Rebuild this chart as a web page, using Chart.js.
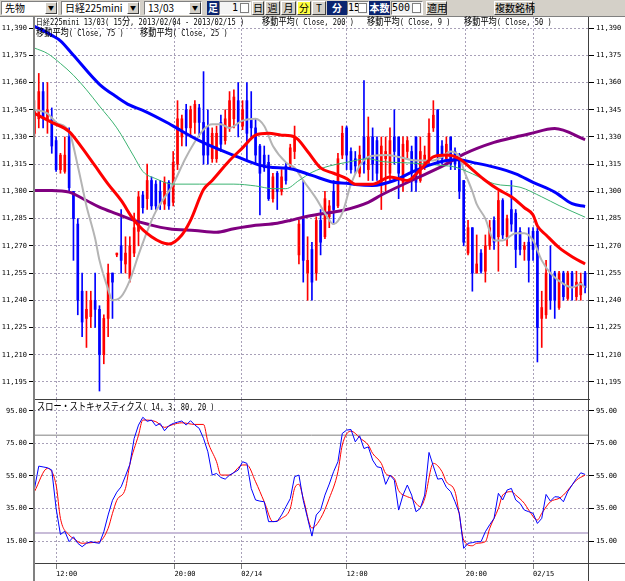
<!DOCTYPE html>
<html><head><meta charset="utf-8">
<script src="https://cdn.jsdelivr.net/npm/chart.js@4"></script>
<style>
html,body{margin:0;padding:0;background:#fff;width:625px;height:581px;overflow:hidden;position:relative;}
#tb{position:absolute;left:0;top:0;width:625px;height:17px;background:#d4d0c8;border-bottom:1px solid #808080;box-sizing:border-box;font-family:'Noto Sans CJK JP',sans-serif;}
.sel{position:absolute;top:1px;height:14px;background:#fff;border:1px solid;border-color:#808080 #fff #fff #808080;box-sizing:border-box;font-size:10px;line-height:12px;padding-left:3px;white-space:nowrap;}
.arr{position:absolute;right:0;top:0;width:12px;height:12px;background:#d4d0c8;border:1px solid;border-color:#fff #404040 #404040 #fff;box-sizing:border-box;font-size:6px;line-height:10px;text-align:center;}
.nav{position:absolute;top:1px;height:14px;background:#0a2470;color:#fff;font-size:10px;line-height:14px;text-align:center;font-weight:bold;}
.btn{position:absolute;top:1px;height:14px;background:#d4d0c8;border:1px solid;border-color:#fff #404040 #404040 #fff;box-sizing:border-box;font-size:10px;line-height:12px;text-align:center;white-space:nowrap;}
.spin{position:absolute;top:1px;height:14px;background:#f4f4f4;border:1px solid;border-color:#808080 #fff #fff #808080;box-sizing:border-box;font-size:10px;line-height:12px;text-align:right;padding-right:12px;font-family:'DejaVu Sans Mono',monospace;}
.spin i{position:absolute;right:1px;top:1px;width:9px;height:10px;border:1px solid #808080;box-sizing:border-box;background:#fff;}
.txt{position:absolute;font:9px 'DejaVu Sans Mono',monospace;color:#000;white-space:nowrap;line-height:11px;transform:scaleX(0.78);transform-origin:0 0;}
.txt i{font-style:normal;font-family:'Noto Sans CJK JP',sans-serif;font-size:10.5px;}
.cv{position:absolute;left:0;}
.vline{position:absolute;background:#808080;}
</style>
</head><body>
<div id="tb">
  <div class="sel" style="left:1px;width:57px">先物<span class="arr">▼</span></div>
  <div class="sel" style="left:61px;width:79px">日経225mini<span class="arr">▼</span></div>
  <div class="sel" style="left:144px;width:58px">13/03<span class="arr">▼</span></div>
  <div class="nav" style="left:207px;width:12px">足</div>
  <div class="spin" style="left:219px;width:32px">1<i></i></div>
  <div class="btn" style="left:252px;width:12px">日</div>
  <div class="btn" style="left:265px;width:15px">週</div>
  <div class="btn" style="left:281px;width:15px">月</div>
  <div class="btn" style="left:297px;width:14px;background:#ffff40">分</div>
  <div class="btn" style="left:312px;width:14px">T</div>
  <div class="nav" style="left:327px;width:20px">分</div>
  <div class="spin" style="left:347px;width:22px">15<i></i></div>
  <div class="nav" style="left:369px;width:21px">本数</div>
  <div class="spin" style="left:391px;width:32px">500<i></i></div>
  <div class="btn" style="left:426px;width:21px">適用</div>
  <div class="btn" style="left:494px;width:39px">複数銘柄</div>
</div>
<div class="cv" style="top:17px;width:625px;height:383px"><canvas id="c1" width="625" height="383"></canvas></div>
<div class="cv" style="top:400px;width:625px;height:181px"><canvas id="c2" width="625" height="181"></canvas></div>
<div class="vline" style="left:33px;top:17px;width:2px;height:564px"></div>
<div class="vline" style="left:588px;top:17px;width:1px;height:564px;background:#404040"></div>
<div class="vline" style="left:589px;top:563px;width:36px;height:1px;background:#404040"></div>
<div class="txt" style="left:36px;top:15px">日経225mini 13/03( 15<i>分</i>, 2013/02/04 - 2013/02/15 )</div>
<div class="txt" style="left:262px;top:15px"><i>移動平均</i>( Close, 200 )</div>
<div class="txt" style="left:367px;top:15px"><i>移動平均</i>( Close, 9 )</div>
<div class="txt" style="left:464px;top:15px"><i>移動平均</i>( Close, 50 )</div>
<div class="txt" style="left:36px;top:26px"><i>移動平均</i>( Close, 75 )</div>
<div class="txt" style="left:140px;top:26px"><i>移動平均</i>( Close, 25 )</div>
<div class="txt" style="left:37px;top:400px"><i>スロー・ストキャスティクス</i>( 14, 3, 80, 20 )</div>
<script>
// ---------- data ----------
const tickPos    = [5, 32.3, 47.7, 72, 99.5, 115];
const tickLabels = ['12:00', '20:00', '02/14', '12:00', '20:00', '02/15'];
const priceTicks = [11195, 11210, 11225, 11240, 11255, 11270, 11285, 11300, 11315, 11330, 11345, 11360, 11375, 11390];
const stochTicks = [15, 35, 55, 75, 95];
const stochLevels = [80, 20];

const open = [11332,11340,11355,11340,11340,11328,11312,11311,11330,11300,11282,11245,11230,11231,11240,11235,11210,11230,11255,11265,
 11270,11260,11252,11266,11278,11298,11296,11306,11304,11300,11293,11305,11294,11315,11330,11345,11335,11338,11346,11338,
 11335,11318,11318,11338,11328,11335,11340,11350,11336,11350,11340,11335,11325,11320,11316,11296,11310,11300,11314,11314,
 11322,11265,11285,11255,11268,11255,11284,11275,11286,11300,11292,11320,11335,11322,11318,11310,11330,11312,11330,11328,
 11305,11318,11310,11330,11330,11305,11322,11322,11330,11306,11315,11318,11335,11345,11325,11318,11330,11322,11318,11306,
 11266,11280,11255,11266,11256,11270,11284,11275,11295,11275,11290,11288,11278,11268,11272,11278,11278,11230,11232,11255,
 11255,11236,11255,11241,11255,11242,11243,11255];
const high = [11350,11365,11360,11360,11346,11330,11321,11330,11335,11300,11285,11255,11245,11245,11255,11237,11232,11260,11255,11266,
 11290,11275,11275,11288,11300,11300,11315,11308,11306,11306,11308,11306,11322,11350,11342,11348,11347,11350,11348,11366,
 11345,11335,11336,11342,11345,11355,11356,11360,11350,11360,11355,11340,11326,11325,11320,11310,11311,11312,11316,11326,
 11336,11284,11306,11275,11272,11286,11290,11300,11295,11306,11321,11336,11336,11324,11322,11325,11361,11341,11335,11330,
 11330,11330,11335,11345,11330,11330,11330,11325,11330,11330,11325,11340,11350,11345,11328,11330,11330,11324,11321,11306,
 11284,11280,11276,11268,11276,11284,11286,11300,11296,11287,11306,11290,11280,11272,11280,11280,11280,11245,11262,11270,
 11256,11256,11256,11256,11256,11256,11255,11256];
const low = [11330,11335,11335,11332,11321,11311,11310,11310,11300,11262,11232,11220,11214,11225,11225,11190,11205,11220,11230,11264,
 11255,11255,11250,11264,11270,11288,11290,11290,11290,11290,11290,11290,11292,11312,11325,11325,11330,11332,11330,11315,
 11315,11316,11316,11322,11326,11333,11335,11330,11334,11317,11330,11315,11287,11311,11295,11294,11290,11298,11304,11312,
 11318,11260,11250,11240,11240,11251,11265,11274,11280,11282,11291,11318,11312,11310,11310,11308,11310,11306,11306,11306,
 11290,11300,11306,11315,11296,11300,11318,11300,11300,11305,11312,11315,11333,11315,11315,11316,11312,11312,11296,11270,
 11265,11245,11255,11255,11250,11268,11268,11256,11274,11270,11278,11258,11265,11262,11250,11262,11206,11214,11230,11235,
 11230,11235,11240,11240,11240,11240,11240,11244];
const close = [11345,11355,11340,11345,11325,11312,11320,11320,11302,11285,11240,11228,11235,11240,11235,11210,11230,11255,11250,11266,
 11262,11266,11270,11280,11297,11291,11306,11292,11292,11293,11305,11292,11316,11340,11340,11335,11345,11348,11338,11320,
 11320,11332,11332,11326,11340,11350,11352,11338,11345,11332,11335,11320,11310,11313,11296,11308,11300,11308,11306,11324,
 11330,11282,11262,11262,11250,11284,11272,11296,11292,11290,11318,11332,11320,11312,11314,11320,11315,11330,11315,11310,
 11325,11322,11328,11322,11310,11326,11328,11310,11305,11322,11320,11332,11342,11320,11318,11326,11315,11315,11300,11272,
 11280,11255,11260,11256,11270,11280,11272,11295,11276,11285,11282,11268,11268,11270,11262,11268,11225,11236,11255,11240,
 11240,11255,11242,11255,11248,11250,11250,11247];

// moving averages: [bar index, value]
const ma200 = [[0,11300.5],[4,11300.5],[8,11299.6],[12,11295],[15,11291.3],[19,11287.6],[23,11284],[26,11282],[31,11279.4],[37,11278.4],
 [42,11277.5],[46,11279.4],[51,11281.3],[56,11282.5],[59,11284],[62,11285.8],[66,11287.6],[71,11289.5],[77,11294],[80,11298],
 [87,11306],[95,11315],[99,11320.5],[106,11327],[111,11330],[114,11331.6],[120,11334.6],[127,11328.5]];
const ma9 = [[0,11345],[3,11343],[5,11338],[8,11333],[10,11314],[12,11292],[14,11274],[15,11262],[17,11246],[18,11240],[20,11242],
 [22,11251],[24,11265],[26,11278],[28,11289],[32,11304],[35,11319],[39,11334],[41,11337],[43,11337],[45,11335],[48,11339],[51,11340],
 [53,11336],[55,11325],[58,11316],[60,11313],[62,11306],[65,11296],[67,11288],[69,11282],[71,11288],[73,11304],[75,11314],[77,11319],
 [81,11320],[84,11319],[88,11317],[92,11317],[94,11319],[96,11322],[98,11319],[99,11312],[101,11300],[102,11293],[104,11285],
 [106,11273],[108,11273],[111,11277],[113,11277],[115,11273],[117,11262],[119,11255],[122,11249],[124,11247],[126,11249],[127,11247]];
const ma50 = [[0,11391],[4,11386],[6,11383],[9,11375],[15,11359],[19,11352],[22,11347.5],[25,11344.7],[31,11337.4],[33,11334.6],[38,11328],
 [46,11319.8],[51,11315.2],[54,11313.4],[59,11312.5],[64,11308.8],[69,11305],[72,11304.5],[74,11303.8],[78,11303.3],[83,11306],
 [87,11310.6],[92,11315.2],[95,11317],[98,11317.4],[101,11316],[106,11313.4],[111,11309.7],[115,11305],[120,11299.6],[124,11293.2],[127,11291.7]];
const ma75 = [[0,11379],[3,11376],[6,11370.5],[9,11364],[12,11356],[15,11347],[19,11335],[23,11319],[25,11311],[28,11307],[32,11304],
 [38,11304],[46,11304],[51,11303],[55,11301.5],[58,11301.5],[61,11306],[64,11310.5],[68,11314],[72,11316],[77,11318],[80,11316.5],
 [88,11315.5],[94,11314.3],[97,11313.4],[101,11309.7],[106,11304.2],[112,11302.3],[117,11297],[121,11292.2],[127,11285.8]];
const ma25 = [[0,11343],[4,11338],[8,11333],[11,11324],[14,11314],[17,11304],[20,11295],[23,11284],[27,11275],[31,11271],[34,11276],
 [36,11284],[39,11301],[41,11306],[45,11317],[48,11324],[51,11331],[54,11332],[57,11331],[60,11330],[63,11322],[66,11313],[69,11310],
 [72,11307],[74,11304],[78,11304],[82,11308],[86,11306],[89,11312],[92,11319],[95,11320],[98,11318],[101,11312],[104,11306],[107,11301],
 [110,11297],[113,11291],[115,11287],[116,11281],[118,11276],[121,11269],[124,11264],[127,11260]];

// slow stochastics (%K blue, %D red): [bar index, value]
const stochK = [[0,47],[1,61],[2,60.5],[3,60],[4,58.6],[5,35],[6,19],[7,21],[8,14.6],[9,17.6],[10,13.6],[11,11.5],[12,13.6],[13,14.6],[14,14],
 [15,13.6],[16,20.7],[17,31],[18,40],[19,45],[20,48.3],[21,55],[22,62],[23,78],[24,86.2],[25,91],[26,88.5],[27,89.3],[28,85.8],[29,87.2],
 [30,82.7],[31,85.8],[32,87.2],[33,88],[34,88.7],[35,86.2],[36,88.9],[37,86.2],[38,84.2],[39,78],[40,69.8],[41,55.5],[42,56.5],[43,54],
 [44,53],[45,55.5],[46,57],[47,58.6],[48,63.7],[49,62.7],[50,47.3],[51,40.2],[52,39.5],[53,39.1],[54,26.9],[55,26.9],[56,27],[57,31],
 [58,36],[59,41],[60,54.5],[61,55.5],[62,40],[63,28.9],[64,18],[65,31],[66,34],[67,43.2],[68,50],[69,57.6],[70,63.7],[71,81.1],[72,83.1],
 [73,83.5],[74,75.9],[75,79.6],[76,71.8],[77,72.8],[78,64.7],[79,60.6],[80,60],[81,49.8],[82,55.5],[83,52.4],[84,34],[85,43.2],[86,49.4],
 [87,43.2],[88,33],[89,35],[90,43.2],[91,69.4],[92,61],[93,53],[94,53.4],[95,48],[96,45.3],[97,39.1],[98,32],[99,10.5],[100,13.6],
 [101,14],[102,14.6],[103,14.6],[104,20.7],[105,25],[106,28.9],[107,44.3],[108,40.2],[109,46.3],[110,47.3],[111,40.2],[112,38.1],
 [113,34],[114,33],[115,32],[116,25.8],[117,28.9],[118,43.6],[119,39.5],[120,42.2],[121,42],[122,39.1],[123,45.3],[124,49.4],
 [125,53.4],[126,56.9],[127,55.9]];
const stochD = [[0,45.3],[3,59.6],[5,49.4],[6,28.9],[8,18.7],[9,16.6],[11,13.6],[14,14.2],[15,14.6],[17,22.8],[18,32],[19,40],[21,47.3],
 [22,62],[24,80],[25,89.3],[28,88.3],[30,84.8],[32,86.6],[34,87.6],[37,86.6],[39,86.6],[40,76],[42,63.7],[43,55.5],[45,55.5],[48,61.7],
 [49,61.7],[51,51.4],[53,39.1],[55,26.9],[57,28.9],[59,35],[60,47.3],[61,49.8],[62,41.2],[64,23],[66,28.9],[68,41.2],[70,57.6],[71,73.9],
 [73,82.5],[74,81.1],[75,78.4],[77,73.9],[78,68.8],[80,62.7],[81,56.5],[83,53.4],[84,46],[86,42.2],[87,41.2],[89,36.1],[90,41],[92,62.7],
 [94,57.6],[95,51.4],[97,45.3],[98,31],[99,15.6],[101,12.1],[102,13.6],[104,14.6],[105,22.8],[107,35],[108,43.2],[110,45.3],[111,43.2],
 [113,38.1],[114,34],[116,27.9],[117,32],[119,39.1],[121,41.2],[122,43.2],[124,49.4],[125,52.4],[127,55.5]];

// ---------- chart setup ----------
const X_MIN = -0.1, X_MAX = 127.9;
const FONT = {family: "'DejaVu Sans Mono', monospace", size: 7};
const GRID = '#a8a0b8';
const UP = '#ff0000', DOWN = '#0000ff';
const pts = arr => arr.map(p => ({x: p[0], y: p[1]}));
const comma = v => String(v).replace(/\B(?=(\d{3})+(?!\d))/g, ',');
const noPad = s => { s.paddingTop = 0; s.paddingBottom = 0; s.paddingLeft = 0; s.paddingRight = 0; };

const isUp = i => close[i] >= open[i];
const wickData = open.map((o, i) => ({x: i, y: [low[i], high[i]]}));
const bodyData = open.map((o, i) => ({x: i, y: [Math.min(o, close[i]), Math.max(o, close[i])]}));
const barColors = open.map((o, i) => isUp(i) ? UP : DOWN);

function xScale(showLabels) {
  return {
    type: 'linear', min: X_MIN, max: X_MAX, offset: false,
    afterBuildTicks: s => { s.ticks = tickPos.map(v => ({value: v})); },
    ticks: {display: showLabels, autoSkip: false, maxRotation: 0, align: 'start', font: FONT, color: '#000', padding: 1,
      callback: v => { const k = tickPos.indexOf(v); return k >= 0 ? tickLabels[k] : ''; }},
    grid: {color: GRID, offset: false, drawTicks: showLabels, tickLength: 6, tickColor: '#808080', tickBorderDash: []},
    border: {display: true, color: '#404040', width: 1, dash: [2, 2]},
    afterFit: s => { s.height = showLabels ? 18 : 1; noPad(s); }
  };
}
function yScales(min, max, tickArr, fmt) {
  const common = {
    type: 'linear', min, max,
    afterBuildTicks: s => { s.ticks = tickArr.map(v => ({value: v})); },
    ticks: {font: FONT, color: '#000', padding: 2, autoSkip: false, callback: fmt}
  };
  return {
    y: Object.assign({}, common, {position: 'left',
      grid: {color: GRID, tickLength: 5, tickColor: '#000', tickBorderDash: []},
      border: {display: false, dash: [2, 2]},
      afterFit: s => { s.width = 34; noPad(s); }}),
    y2: Object.assign({}, common, {position: 'right',
      grid: {drawOnChartArea: false, tickLength: 5, tickColor: '#000', tickBorderDash: []},
      border: {display: false},
      afterFit: s => { s.width = 36; noPad(s); }})
  };
}
const baseOpts = {
  responsive: false, animation: false, events: [],
  layout: {padding: 0, autoPadding: false},
  plugins: {legend: {display: false}, tooltip: {enabled: false}}
};
const ma = (data, color, width, order) => ({type: 'line', data: pts(data), borderColor: color, borderWidth: width,
  pointRadius: 0, tension: 0.4, cubicInterpolationMode: 'monotone', order, clip: 0});

new Chart(document.getElementById('c1'), {
  type: 'bar',
  data: {datasets: [
    ma(ma25, '#ff0000', 3, 0),
    ma(ma50, '#0000ff', 3, 1),
    ma(ma75, '#3cb371', 1, 2),
    ma(ma9, '#b4b4b4', 2, 3),
    ma(ma200, '#800080', 3, 4),
    {type: 'bar', data: bodyData, backgroundColor: barColors, barThickness: 2, grouped: false, minBarLength: 1, order: 5, clip: 0},
    {type: 'bar', data: wickData, backgroundColor: barColors, barThickness: 1, grouped: false, order: 6, clip: 0}
  ]},
  options: Object.assign({}, baseOpts, {scales: Object.assign({x: xScale(false)}, yScales(11185.6, 11396.1, priceTicks, v => comma(v)))})
});

const levelData = lv => [{x: X_MIN, y: lv}, {x: X_MAX, y: lv}];
new Chart(document.getElementById('c2'), {
  type: 'line',
  data: {datasets: [
    {data: pts(stochK), borderColor: '#0000ff', borderWidth: 1, pointRadius: 0, tension: 0, order: 0, clip: 0},
    {data: pts(stochD), borderColor: '#ff0000', borderWidth: 1, pointRadius: 0, tension: 0.4, cubicInterpolationMode: 'monotone', order: 1, clip: 0},
    {data: levelData(stochLevels[0]), borderColor: '#808080', borderWidth: 1, pointRadius: 0, order: 2},
    {data: levelData(stochLevels[1]), borderColor: '#c8bcd8', borderWidth: 2, pointRadius: 0, order: 3}
  ]},
  options: Object.assign({}, baseOpts, {scales: Object.assign({x: xScale(true)}, yScales(1.5, 101.6, stochTicks, v => v.toFixed(2)))})
});
</script>
</body></html>
